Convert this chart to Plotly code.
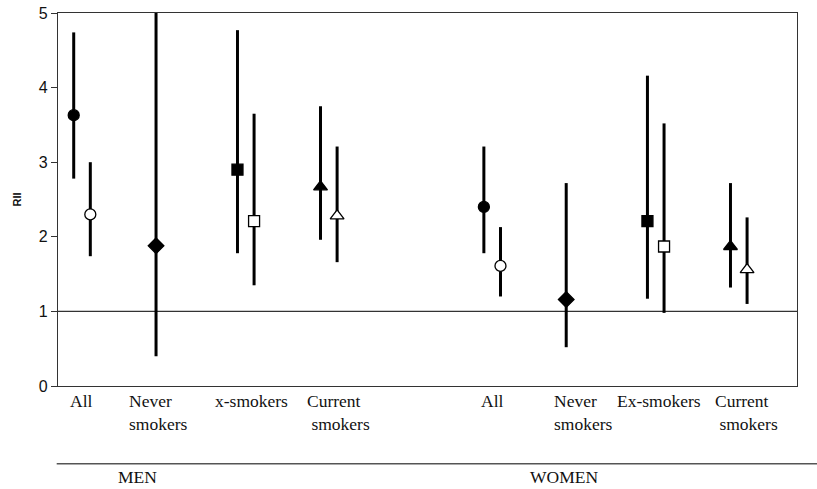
import plotly.graph_objects as go

# ---- data ----
categories = ["All", "Never smokers", "Ex-smokers", "Current smokers"]
men_labels = ["All", "Never<br>smokers", "x-smokers", "Current<br> smokers"]
women_labels = ["All", "Never<br>smokers", "Ex-smokers", "Current<br> smokers"]
symbols = ["circle", "diamond", "square", "triangle-up"]

men_a_rii = [3.63, 1.88, 2.90, 2.67]
men_a_lo = [2.78, 0.40, 1.78, 1.96]
men_a_hi = [4.74, 5.10, 4.77, 3.75]
men_b_rii = [2.30, None, 2.21, 2.28]
men_b_lo = [1.74, None, 1.35, 1.66]
men_b_hi = [3.00, None, 3.65, 3.21]

women_a_rii = [2.40, 1.16, 2.21, 1.87]
women_a_lo = [1.78, 0.52, 1.17, 1.32]
women_a_hi = [3.21, 2.72, 4.16, 2.72]
women_b_rii = [1.61, None, 1.87, 1.56]
women_b_lo = [1.20, None, 0.98, 1.10]
women_b_hi = [2.13, None, 3.52, 2.26]

y_ticks = [0, 1, 2, 3, 4, 5]
groups = ["MEN", "WOMEN"]

# ---- layout constants ----
W, H = 817, 489
PL, PR, PT, PB = 58, 796.7, 13.3, 385.7   # plot area in pixels
men_pos = [82, 156, 245.7, 328.7]
women_pos = [492, 566, 655.5, 738.5]
pair_off = 8.3
men_label_left = [68, 127, 212.7, 305]
women_label_left = [479, 551.7, 615, 713]
group_centers_px = [137.5, 563.3]


def px_to_paper_x(X):
    return (X - PL) / (PR - PL)


def px_to_paper_y(Y):
    return (PB - Y) / (PB - PT)


fig = go.Figure()


def add_series(pos, rii, lo, hi, filled, paired):
    for i in range(len(categories)):
        if rii[i] is None:
            continue
        x = pos[i]
        if paired[i]:
            x = x - pair_off if filled else x + pair_off
        sym = symbols[i]
        size = {"circle": 11, "diamond": 12, "square": 11, "triangle-up": 12}[sym]
        fig.add_trace(go.Scatter(
            x=[x], y=[rii[i]], mode="markers",
            marker=dict(symbol=sym, size=size,
                        color="black" if filled else "white",
                        line=dict(color="black", width=1.3)),
            error_y=dict(type="data", symmetric=False,
                         array=[hi[i] - rii[i]], arrayminus=[rii[i] - lo[i]],
                         color="black", thickness=3, width=0),
            showlegend=False, cliponaxis=False,
        ))


men_paired = [v is not None for v in men_b_rii]
women_paired = [v is not None for v in women_b_rii]
add_series(men_pos, men_a_rii, men_a_lo, men_a_hi, True, men_paired)
add_series(men_pos, men_b_rii, men_b_lo, men_b_hi, False, men_paired)
add_series(women_pos, women_a_rii, women_a_lo, women_a_hi, True, women_paired)
add_series(women_pos, women_b_rii, women_b_lo, women_b_hi, False, women_paired)

# reference line at RII = 1
fig.add_hline(y=1, line=dict(color="#333333", width=1.3), layer="below")

annotations = []
serif = "Liberation Serif, Times New Roman, serif"
for xl, txt in zip(men_label_left + women_label_left, men_labels + women_labels):
    annotations.append(dict(x=xl, y=px_to_paper_y(388.5), xref="x", yref="paper", text=txt,
                            showarrow=False, xanchor="left", yanchor="top",
                            align="left", font=dict(family=serif, size=17.5, color="#111")))
for xc, g in zip(group_centers_px, groups):
    annotations.append(dict(x=px_to_paper_x(xc), y=px_to_paper_y(476.5), xref="paper",
                            yref="paper", text=g, showarrow=False,
                            xanchor="center", yanchor="middle",
                            font=dict(family=serif, size=17.5, color="#111")))
annotations.append(dict(x=px_to_paper_x(17), y=0.5, xref="paper", yref="paper",
                        text="<b>RII</b>", textangle=-90, showarrow=False,
                        xanchor="center", yanchor="middle",
                        font=dict(family="Liberation Sans, Arial", size=11, color="#111")))

fig.add_shape(type="line", xref="paper", yref="paper",
              x0=px_to_paper_x(56.7), x1=px_to_paper_x(W),
              y0=px_to_paper_y(463.3), y1=px_to_paper_y(463.3),
              line=dict(color="#555555", width=1.5))

fig.update_layout(
    width=W, height=H,
    margin=dict(l=PL, r=W - PR, t=PT, b=H - PB, autoexpand=False),
    paper_bgcolor="white", plot_bgcolor="white",
    annotations=annotations,
    xaxis=dict(range=[PL, PR], showticklabels=False, ticks="", automargin=False,
               showgrid=False, zeroline=False, showline=True, mirror=True,
               linecolor="#333333", linewidth=1.3),
    yaxis=dict(range=[0, 5], tickvals=y_ticks, ticks="outside", ticklen=6,
               tickwidth=1.3, tickcolor="#333333", automargin=False,
               tickfont=dict(family="Liberation Sans, Arial", size=16, color="#111"),
               showgrid=False, zeroline=False, showline=True, mirror=True,
               linecolor="#333333", linewidth=1.3),
)

fig.write_html("out.html", config={"displayModeBar": False},
               post_script="document.body.style.margin='0px';document.body.style.overflow='hidden';")
